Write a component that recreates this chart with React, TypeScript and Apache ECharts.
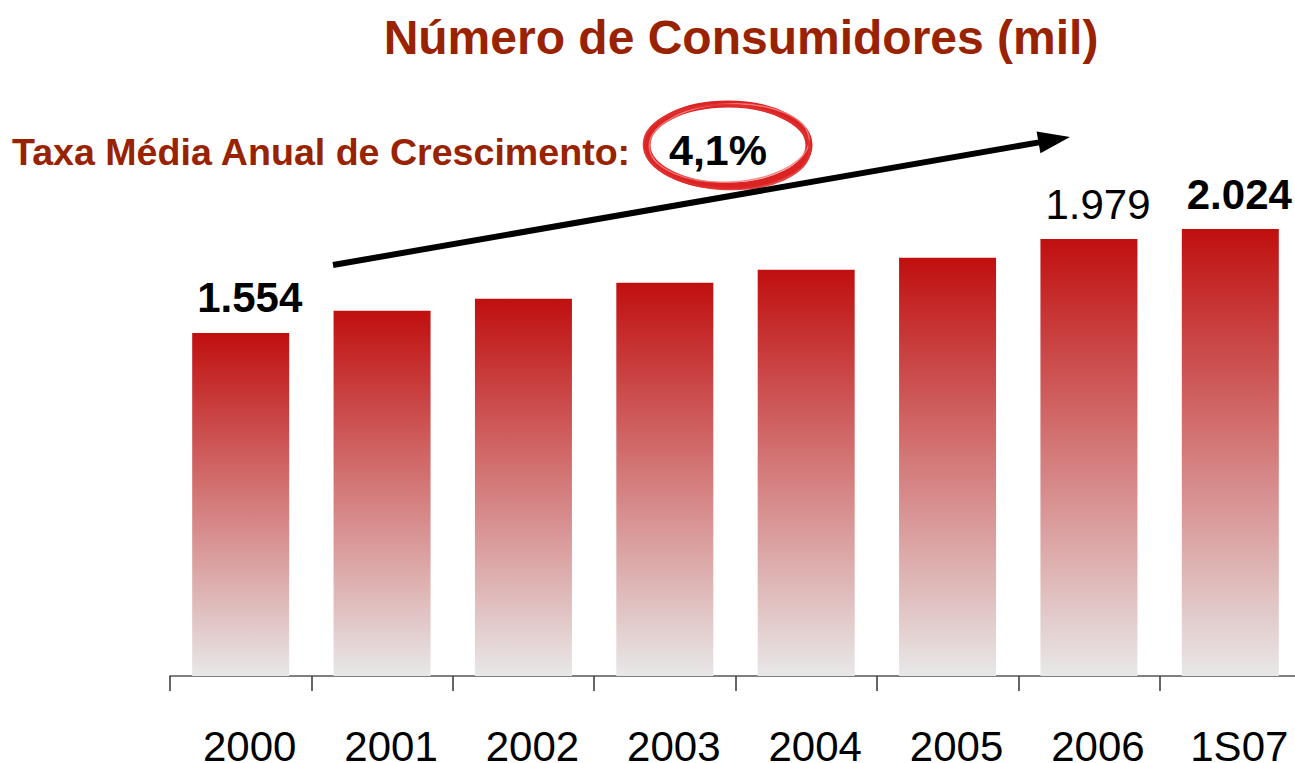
import React, { useEffect, useRef } from "react";
import * as echarts from "echarts";

const categories = ["2000", "2001", "2002", "2003", "2004", "2005", "2006", "1S07"];
const consumers = [1554, 1654, 1708, 1781, 1840, 1894, 1979, 2024];
// which bars carry a value label, and whether it is bold
const labelStyle: (null | "bold" | "normal")[] = ["bold", null, null, null, null, null, "normal", "bold"];

const titleText = "Número de Consumidores (mil)";
const growthLabel = "Taxa Média Anual de Crescimento:";
const growthValue = "4,1%";

const FONT = "'Liberation Sans', Arial, sans-serif";
const DARK_RED = "#992200";

const fmt = (v: number) => {
  const s = String(v);
  return s.length > 3 ? s.slice(0, s.length - 3) + "." + s.slice(s.length - 3) : s;
};

export default function App() {
  const ref = useRef<HTMLDivElement>(null);
  useEffect(() => {
    if (!ref.current) return;
    const chart = echarts.init(ref.current, null, { renderer: "svg" });
    const barGradient = new echarts.graphic.LinearGradient(0, 0, 0, 1, [
      { offset: 0, color: "#C00F0F" },
      { offset: 1, color: "#E8E8E8" },
    ]);
    const data = consumers.map((v, i) => {
      const st = labelStyle[i];
      return {
        value: v,
        label: st
          ? {
              show: true,
              position: "top",
              distance: 14,
              offset: [9, 0],
              formatter: (p: any) => fmt(p.value),
              fontFamily: FONT,
              fontSize: 42,
              fontWeight: st,
              color: "#000",
            }
          : { show: false },
      };
    });
    // arrow geometry
    const tip = [1070, 137];
    const base = [1038.5, 142.4];
    chart.setOption({
      animation: false,
      title: {
        text: titleText,
        left: 736,
        top: 8,
        textAlign: "center",
        textStyle: { fontFamily: FONT, fontSize: 48, fontWeight: "bold", color: DARK_RED },
      },
      grid: { left: 170, top: 124, width: 1131, height: 552, containLabel: false, outerBoundsMode: "none" },
      xAxis: {
        type: "category",
        data: categories,
        boundaryGap: true,
        axisLine: { show: true, lineStyle: { color: "#555", width: 1.5 } },
        axisTick: { show: true, alignWithLabel: false, length: 15, lineStyle: { color: "#333", width: 1.5 } },
        axisLabel: {
          fontFamily: FONT,
          fontSize: 42,
          lineHeight: 30,
          color: "#000",
          margin: 55,
          interval: 0,
          padding: [0, 0, 0, 18],
        },
      },
      yAxis: { type: "value", min: 0, max: 2500, show: false, splitLine: { show: false } },
      series: [
        {
          type: "bar",
          data,
          barWidth: 97,
          itemStyle: { color: barGradient },
        },
      ],
      graphic: [
        {
          type: "text",
          left: 12,
          top: 133,
          style: {
            text: growthLabel,
            fontFamily: FONT,
            fontSize: 37.6,
            fontWeight: "bold",
            fill: DARK_RED,
          },
        },
        {
          type: "ellipse",
          shape: { cx: 728, cy: 145, rx: 81, ry: 41 },
          style: { fill: "none", stroke: "#DC2222", lineWidth: 7 },
        },
        {
          type: "ellipse",
          shape: { cx: 729, cy: 143, rx: 80, ry: 39 },
          rotation: 0.05,
          originX: 729,
          originY: 143,
          style: { fill: "none", stroke: "#F08080", lineWidth: 1.5, opacity: 0.9 },
        },
        {
          type: "ellipse",
          shape: { cx: 727, cy: 147, rx: 83, ry: 42 },
          rotation: -0.04,
          originX: 727,
          originY: 147,
          style: { fill: "none", stroke: "#E03030", lineWidth: 2.5, opacity: 0.9 },
        },
        {
          type: "text",
          x: 718,
          y: 150,
          style: {
            text: growthValue,
            fontFamily: FONT,
            fontSize: 43,
            fontWeight: "bold",
            fill: "#000",
            textAlign: "center",
            textVerticalAlign: "middle",
          },
        },
        {
          type: "line",
          shape: { x1: 333, y1: 265, x2: base[0] + 2, y2: base[1] - 0.3 },
          style: { stroke: "#000", lineWidth: 6 },
        },
        {
          type: "polygon",
          shape: {
            points: [
              tip,
              [base[0] + 1.9, base[1] + 10.8],
              [base[0] - 1.9, base[1] - 10.8],
            ],
          },
          style: { fill: "#000" },
        },
      ],
    });
    return () => chart.dispose();
  }, []);
  return (
    <div style={{ position: "absolute", left: 0, top: 0, width: 1295, height: 763, overflow: "hidden", background: "#fff" }}>
      <div ref={ref} style={{ position: "absolute", left: 0, top: 0, width: 1310, height: 763 }} />
    </div>
  );
}
